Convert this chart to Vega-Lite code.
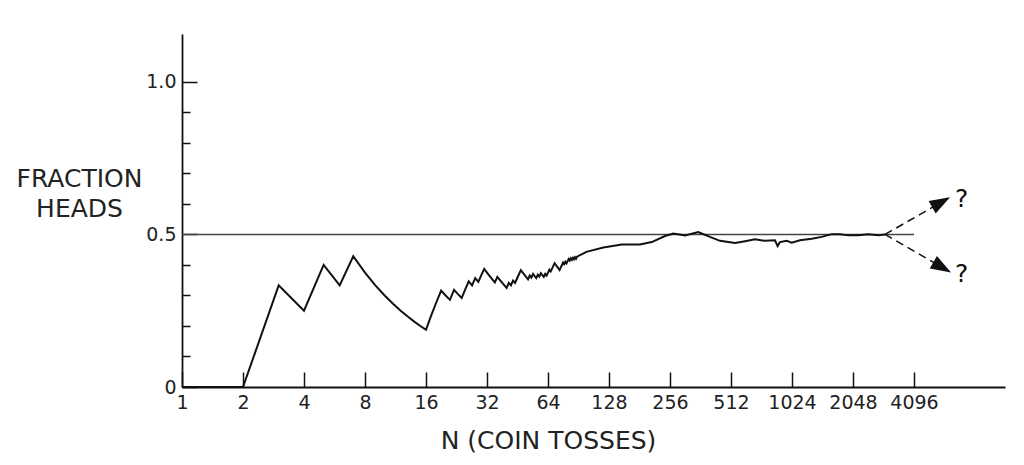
{
  "$schema": "https://vega.github.io/schema/vega-lite/v6.json",
  "autosize": {"type": "none"},
  "padding": {"left": 182, "top": 34, "right": 19, "bottom": 78},
  "width": 823,
  "height": 353,
  "background": "white",
  "config": {
    "view": {"stroke": null},
    "axis": {
      "labelFont": "DejaVu Sans",
      "labelFontSize": 19,
      "labelColor": "#222",
      "titleFont": "DejaVu Sans",
      "titleFontWeight": "normal",
      "titleColor": "#222",
      "domainColor": "#111",
      "domainWidth": 1.8,
      "tickColor": "#111",
      "tickWidth": 1.5,
      "grid": false
    }
  },
  "datasets": {
    "ref": [{"n1": 1, "n2": 4096, "f": 0.5}],
    "walk": [
      {"n": 1, "f": 0}, {"n": 2, "f": 0}, {"n": 3, "f": 0.3333}, {"n": 4, "f": 0.25},
      {"n": 5, "f": 0.4}, {"n": 6, "f": 0.3333}, {"n": 7, "f": 0.4286}, {"n": 8, "f": 0.375},
      {"n": 9, "f": 0.3333}, {"n": 10, "f": 0.3}, {"n": 11, "f": 0.2727}, {"n": 12, "f": 0.25},
      {"n": 13, "f": 0.2308}, {"n": 14, "f": 0.2143}, {"n": 15, "f": 0.2}, {"n": 16, "f": 0.1875},
      {"n": 17, "f": 0.2353}, {"n": 18, "f": 0.2778}, {"n": 19, "f": 0.3158}, {"n": 20, "f": 0.3},
      {"n": 21, "f": 0.2857}, {"n": 22, "f": 0.3182}, {"n": 23, "f": 0.3043}, {"n": 24, "f": 0.2917},
      {"n": 25, "f": 0.32}, {"n": 26, "f": 0.3462}, {"n": 27, "f": 0.3333}, {"n": 28, "f": 0.3571},
      {"n": 29, "f": 0.3448}, {"n": 30, "f": 0.3667}, {"n": 31, "f": 0.3871}, {"n": 32, "f": 0.375},
      {"n": 33, "f": 0.3636}, {"n": 34, "f": 0.3529}, {"n": 35, "f": 0.3429}, {"n": 36, "f": 0.3611},
      {"n": 37, "f": 0.3514}, {"n": 38, "f": 0.3421}, {"n": 39, "f": 0.3333}, {"n": 40, "f": 0.325},
      {"n": 41, "f": 0.3415}, {"n": 42, "f": 0.3333}, {"n": 43, "f": 0.3488}, {"n": 44, "f": 0.3409},
      {"n": 45, "f": 0.3556}, {"n": 46, "f": 0.3696}, {"n": 47, "f": 0.383}, {"n": 48, "f": 0.375},
      {"n": 49, "f": 0.3673}, {"n": 50, "f": 0.36}, {"n": 51, "f": 0.3529}, {"n": 52, "f": 0.3654},
      {"n": 53, "f": 0.3585}, {"n": 54, "f": 0.3704}, {"n": 55, "f": 0.3636}, {"n": 56, "f": 0.3571},
      {"n": 57, "f": 0.3684}, {"n": 58, "f": 0.3621}, {"n": 59, "f": 0.3729}, {"n": 60, "f": 0.3667},
      {"n": 61, "f": 0.3607}, {"n": 62, "f": 0.371}, {"n": 63, "f": 0.3651}, {"n": 64, "f": 0.375},
      {"n": 65, "f": 0.3846}, {"n": 66, "f": 0.3788}, {"n": 67, "f": 0.3881}, {"n": 68, "f": 0.397},
      {"n": 69, "f": 0.4058}, {"n": 70, "f": 0.4}, {"n": 71, "f": 0.3944}, {"n": 72, "f": 0.3889},
      {"n": 73, "f": 0.3836}, {"n": 74, "f": 0.3919}, {"n": 75, "f": 0.4}, {"n": 76, "f": 0.4079},
      {"n": 77, "f": 0.4026}, {"n": 78, "f": 0.4103}, {"n": 79, "f": 0.4051}, {"n": 80, "f": 0.4125},
      {"n": 81, "f": 0.4198}, {"n": 82, "f": 0.4146}, {"n": 83, "f": 0.4217}, {"n": 84, "f": 0.4167},
      {"n": 85, "f": 0.4235}, {"n": 86, "f": 0.4186}, {"n": 87, "f": 0.4253}, {"n": 88, "f": 0.4205},
      {"n": 89, "f": 0.427},
      {"n": 99, "f": 0.443}, {"n": 120, "f": 0.457}, {"n": 148, "f": 0.467}, {"n": 182, "f": 0.467},
      {"n": 208, "f": 0.475}, {"n": 242, "f": 0.495}, {"n": 266, "f": 0.503}, {"n": 304, "f": 0.497},
      {"n": 353, "f": 0.508}, {"n": 403, "f": 0.492}, {"n": 452, "f": 0.479}, {"n": 497, "f": 0.475},
      {"n": 536, "f": 0.472}, {"n": 601, "f": 0.478}, {"n": 672, "f": 0.484}, {"n": 753, "f": 0.479},
      {"n": 844, "f": 0.481}, {"n": 870, "f": 0.462}, {"n": 893, "f": 0.475}, {"n": 964, "f": 0.479},
      {"n": 1021, "f": 0.473}, {"n": 1121, "f": 0.481}, {"n": 1281, "f": 0.486}, {"n": 1435, "f": 0.492},
      {"n": 1608, "f": 0.501}, {"n": 1767, "f": 0.501}, {"n": 1942, "f": 0.497}, {"n": 2175, "f": 0.497},
      {"n": 2438, "f": 0.501}, {"n": 2731, "f": 0.497}, {"n": 2947, "f": 0.5}
    ],
    "arrows": [
      {"dir": "up", "n": 2947, "f": 0.5}, {"dir": "up", "n": 6165, "f": 0.622},
      {"dir": "down", "n": 2947, "f": 0.5}, {"dir": "down", "n": 6240, "f": 0.375}
    ],
    "tips": [
      {"dir": "up", "n": 6165, "f": 0.622}, {"dir": "down", "n": 6240, "f": 0.375}
    ],
    "marks": [
      {"n": 7042, "f": 0.615, "label": "?"}, {"n": 7042, "f": 0.37, "label": "?"}
    ]
  },
  "resolve": {"axis": {"x": "independent", "y": "independent"}},
  "layer": [
    {
      "data": {"name": "ref"},
      "mark": {"type": "rule", "color": "#444", "strokeWidth": 1.5},
      "encoding": {
        "x": {
          "field": "n1", "type": "quantitative",
          "scale": {"type": "log", "base": 2, "domain": [1, 11520], "nice": false, "zero": false},
          "axis": {
            "orient": "bottom",
            "values": [1, 2, 4, 8, 16, 32, 64, 128, 256, 512, 1024, 2048, 4096],
            "format": "d",
            "tickSize": -15,
            "labelPadding": 21,
            "labelFlush": false,
            "labelOverlap": false,
            "title": "N (COIN TOSSES)",
            "titleFontSize": 25,
            "titleX": 366,
            "titleY": 61,
            "titleAlign": "center",
            "titleBaseline": "alphabetic"
          }
        },
        "x2": {"field": "n2"},
        "y": {
          "field": "f", "type": "quantitative",
          "scale": {"domain": [0, 1.157], "nice": false, "zero": true},
          "axis": {
            "orient": "left",
            "values": [0, 0.5, 1],
            "labelExpr": "datum.value == 0 ? '0' : datum.value == 1 ? '1.0' : '0.5'",
            "tickSize": -15,
            "labelPadding": 21,
            "labelFlush": false,
            "labelOverlap": false,
            "title": ["FRACTION", "HEADS"],
            "titleFontSize": 25,
            "titleAngle": 0,
            "titleAlign": "center",
            "titleBaseline": "alphabetic",
            "titleLineHeight": 30,
            "titleX": -103,
            "titleY": 152
          }
        }
      }
    },
    {
      "data": {"name": "walk"},
      "mark": {"type": "line", "color": "#111", "strokeWidth": 2, "strokeJoin": "miter", "interpolate": "linear"},
      "encoding": {
        "x": {"field": "n", "type": "quantitative", "axis": null},
        "y": {
          "field": "f", "type": "quantitative",
          "axis": {
            "orient": "left",
            "values": [0.1, 0.2, 0.3, 0.4, 0.6, 0.7, 0.8, 0.9],
            "tickSize": -8,
            "labels": false,
            "domain": false,
            "title": null
          }
        }
      }
    },
    {
      "data": {"name": "arrows"},
      "mark": {"type": "line", "color": "#111", "strokeWidth": 1.5, "strokeDash": [8, 5]},
      "encoding": {
        "x": {"field": "n", "type": "quantitative", "axis": null},
        "y": {"field": "f", "type": "quantitative", "axis": null},
        "detail": {"field": "dir"}
      }
    },
    {
      "data": {"name": "tips"},
      "transform": [{"filter": "datum.dir == 'up'"}],
      "mark": {"type": "point", "shape": "M 0 0 L -2 -0.7 L -2 0.7 Z", "size": 420, "filled": true, "color": "#111", "opacity": 1, "angle": 330.4},
      "encoding": {
        "x": {"field": "n", "type": "quantitative", "axis": null},
        "y": {"field": "f", "type": "quantitative", "axis": null}
      }
    },
    {
      "data": {"name": "tips"},
      "transform": [{"filter": "datum.dir == 'down'"}],
      "mark": {"type": "point", "shape": "M 0 0 L -2 -0.7 L -2 0.7 Z", "size": 420, "filled": true, "color": "#111", "opacity": 1, "angle": 30.2},
      "encoding": {
        "x": {"field": "n", "type": "quantitative", "axis": null},
        "y": {"field": "f", "type": "quantitative", "axis": null}
      }
    },
    {
      "data": {"name": "marks"},
      "mark": {"type": "text", "font": "DejaVu Sans", "fontSize": 25, "color": "#111", "align": "center", "baseline": "middle"},
      "encoding": {
        "x": {"field": "n", "type": "quantitative", "axis": null},
        "y": {"field": "f", "type": "quantitative", "axis": null},
        "text": {"field": "label"}
      }
    }
  ]
}
